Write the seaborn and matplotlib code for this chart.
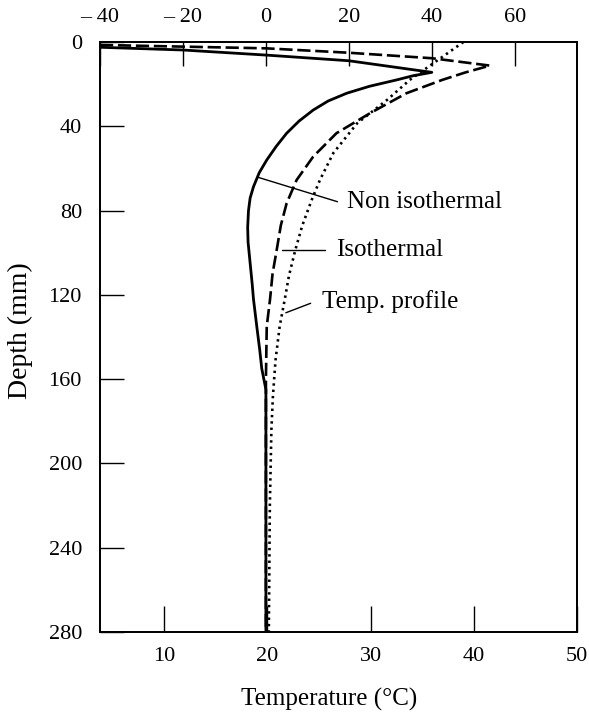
import matplotlib
matplotlib.use("Agg")
import matplotlib.pyplot as plt
import seaborn as sns
import pandas as pd

# Temperature profile (bottom axis, degC) against depth (mm)
temp_depth = [0, 9, 18, 27.5, 38.6, 52.7, 65.5, 75, 87, 99, 111, 122, 135, 151, 168, 184, 220, 280]
temp_value = [39.0, 36.4, 33.8, 31.6, 28.7, 26.4, 25.1, 24.3, 23.4, 22.7, 22.1, 21.7, 21.2,
              20.8, 20.55, 20.4, 20.25, 20.15]

# Non isothermal stress (top axis) against depth (mm)
noniso_depth = [2.5, 3.8, 6.2, 8.9, 14.4, 16, 18, 21, 24.3, 28, 32.3, 37.5, 43.3, 49.5, 56, 62,
                68.7, 74, 80, 88, 95, 105, 115, 122, 135, 146, 155, 161, 165, 200, 280]
noniso_value = [-40, -20, 0, 20, 40, 35.5, 31.5, 25, 19.5, 15, 11.4, 8, 5, 2.5, 0.2, -1.6,
                -3.0, -3.8, -4.2, -4.4, -4.3, -3.8, -3.3, -3.0, -2.2, -1.5, -1.0, -0.4, 0, 0, 0]

# Isothermal stress (top axis) against depth (mm)
iso_depth = [1.4, 2.2, 3.0, 5.1, 7.7, 11.2, 14.5, 18, 24.3, 33.8, 43.3, 54.4, 65.5, 76.5, 87,
             98.7, 110, 122, 135, 160, 280]
iso_value = [-40, -20, 0, 20, 40, 54, 48, 42.5, 33.9, 25.1, 17, 11.4, 7.4, 5, 3.6, 2.6, 1.6,
             1.0, 0.2, 0, 0]

depth_ticks = [0, 40, 80, 120, 160, 200, 240, 280]
temp_ticks = [10, 20, 30, 40, 50]
stress_ticks = [-40, -20, 0, 20, 40, 60]
stress_labels = ["\u2013 40", "\u2013 20", "0", "20", "40", "60"]

sns.set_theme(style="white")
plt.rcParams["font.family"] = ["Liberation Serif", "DejaVu Serif"]
plt.rcParams["axes.linewidth"] = 1.3

fig = plt.figure(figsize=(5.89, 7.14), dpi=100)
ax = fig.add_axes([100 / 589, 1 - 632 / 714, 477 / 589, 590 / 714])
ax2 = ax.twiny()

df_temp = pd.DataFrame({"depth": temp_depth, "value": temp_value})
df_noniso = pd.DataFrame({"depth": noniso_depth, "value": noniso_value})
df_iso = pd.DataFrame({"depth": iso_depth, "value": iso_value})

sns.lineplot(data=df_temp, x="value", y="depth", ax=ax, sort=False, estimator=None,
             color="black", lw=1.9, linestyle=(0, (0.9, 1.5)))
sns.lineplot(data=df_noniso, x="value", y="depth", ax=ax2, sort=False, estimator=None,
             color="black", lw=2.0, linestyle="-")
sns.lineplot(data=df_iso, x="value", y="depth", ax=ax2, sort=False, estimator=None,
             color="black", lw=1.9, linestyle=(0, (5.0, 1.8)))

ax.set_xlim(3.8, 50)
ax2.set_xlim(-40, 75)
ax.set_ylim(280, 0)

ax.set_xticks(temp_ticks)
ax.set_yticks(depth_ticks)
ax2.set_xticks(stress_ticks)
ax2.set_xticklabels(stress_labels)

ax.tick_params(axis="x", direction="in", length=19, width=1.0, pad=11, labelsize=16,
               colors="black", bottom=True, top=False)
ax.tick_params(axis="y", direction="in", length=17, width=1.0, pad=13, labelsize=16,
               colors="black", left=True, right=False)
ax2.tick_params(axis="x", direction="in", length=17, width=1.0, pad=11, labelsize=16,
                colors="black", top=True, bottom=False)

ax.set_xlabel("Temperature (\u00b0C)", fontsize=18, color="black")
ax.set_ylabel("Depth (mm)", fontsize=20, color="black")
ax.xaxis.set_label_coords(0.48, -0.095)
ax.yaxis.set_label_coords(-0.14, 0.51)
ax2.set_xlabel("")

for a in (ax, ax2):
    for s in a.spines.values():
        s.set_color("black")
        s.set_linewidth(1.3)

# Curve labels with thin leader lines
txt = dict(fontsize=18, color="black", va="center", ha="left")
ax.text(27.7, 75.8, "Non isothermal", **txt)
ax.plot([19.1, 26.8], [64.2, 75.8], color="black", lw=1.0)
ax.text(26.7, 98.7, "Isothermal", **txt)
ax.plot([21.4, 25.6], [98.7, 98.7], color="black", lw=1.0)
ax.text(25.3, 123.3, "Temp. profile", **txt)
ax.plot([21.8, 24.2], [128.5, 124.0], color="black", lw=1.0)

fig.savefig("out.png", dpi=100)
